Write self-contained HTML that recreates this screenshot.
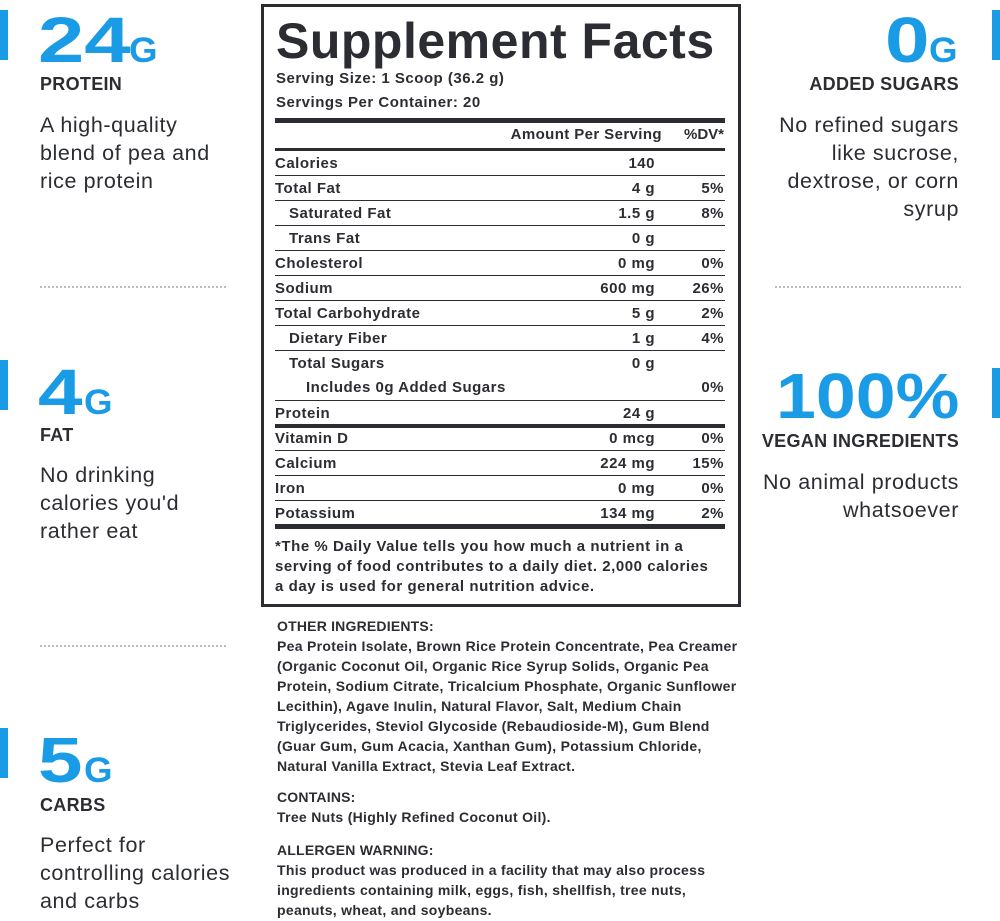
<!DOCTYPE html>
<html><head><meta charset="utf-8"><style>
*{margin:0;padding:0;box-sizing:border-box}
body{width:1000px;height:921px;background:#fff;position:relative;overflow:hidden;font-family:"Liberation Sans",sans-serif;color:#2b2d33}
.a{position:absolute;white-space:nowrap}
.bar{position:absolute;width:8px;height:50px;background:#1a9be6}
.big{position:absolute;color:#1a9be6;font-weight:bold;font-size:64px;line-height:1;white-space:nowrap}
.big .n{display:inline-block;transform:scaleX(1.25);transform-origin:left bottom}
.big .g{font-size:35px;display:inline-block;margin-left:22px;transform:scaleX(1.05);transform-origin:left bottom}
.lab{position:absolute;font-weight:bold;font-size:18px;line-height:20px;letter-spacing:0.3px}
.desc{position:absolute;font-size:21.5px;line-height:28px;letter-spacing:0.6px}
.dot{position:absolute;height:0;border-top:2px dotted #b8bcc2;width:186px}
.box{position:absolute;left:261px;top:4px;width:480px;height:603px;border:3px solid #2b2d33}
.row{position:absolute;left:275px;width:450px;height:25px;font-weight:bold;font-size:15px;letter-spacing:0.5px;line-height:25px;border-top:1px solid #2b2d33}
.row .v{position:absolute;right:70px;top:0}
.row .p{position:absolute;right:1px;top:0}
.rule{position:absolute;left:275px;width:450px;background:#2b2d33}
.t{position:absolute;left:277px;font-weight:bold;font-size:14px;line-height:20px;white-space:nowrap;letter-spacing:0.2px}
.t span{font-size:14px;letter-spacing:0.3px}
</style></head><body>
<div class="bar" style="left:0;top:10px"></div>
<div class="bar" style="left:0;top:360px"></div>
<div class="bar" style="left:0;top:728px"></div>
<div class="bar" style="left:992px;top:10px"></div>
<div class="bar" style="left:992px;top:368px"></div>

<div class="big" style="left:38px;top:8px"><span class="n" style="transform:scaleX(1.3)">24</span><span class="g" style="margin-left:20px">G</span></div>
<div class="lab" style="left:40px;top:74px">PROTEIN</div>
<div class="desc" style="left:40px;top:111px">A high-quality<br>blend of pea and<br>rice protein</div>
<div class="dot" style="left:40px;top:286px"></div>

<div class="big" style="left:38px;top:360px"><span class="n">4</span><span class="g" style="margin-left:10px">G</span></div>
<div class="lab" style="left:40px;top:425px">FAT</div>
<div class="desc" style="left:40px;top:461px">No drinking<br>calories you'd<br>rather eat</div>
<div class="dot" style="left:40px;top:645px"></div>

<div class="big" style="left:38px;top:728px"><span class="n">5</span><span class="g" style="margin-left:10px">G</span></div>
<div class="lab" style="left:40px;top:795px">CARBS</div>
<div class="desc" style="left:40px;top:831px">Perfect for<br>controlling calories<br>and carbs</div>

<div class="big" style="left:885px;top:8px"><span class="n">0</span><span class="g" style="margin-left:8px">G</span></div>
<div class="lab" style="right:41px;top:74px;text-align:right">ADDED SUGARS</div>
<div class="desc" style="right:41px;top:111px;text-align:right">No refined sugars<br>like sucrose,<br>dextrose, or corn<br>syrup</div>
<div class="dot" style="left:775px;top:286px"></div>

<div class="big" style="left:776px;top:364px"><span class="n" style="transform:scaleX(1.12)">100%</span></div>
<div class="lab" style="right:41px;top:431px;text-align:right">VEGAN INGREDIENTS</div>
<div class="desc" style="right:41px;top:468px;text-align:right">No animal products<br>whatsoever</div>

<div class="box"></div>
<div class="a" style="left:276px;top:12px;font-size:50px;font-weight:bold;line-height:58px;letter-spacing:0.5px">Supplement Facts</div>
<div class="a" style="left:276px;top:70px;font-size:15px;letter-spacing:0.5px;font-weight:bold">Serving Size: 1 Scoop (36.2 g)</div>
<div class="a" style="left:276px;top:94px;font-size:15px;letter-spacing:0.5px;font-weight:bold">Servings Per Container: 20</div>
<div class="rule" style="top:118px;height:5px"></div>
<div class="a" style="right:338px;top:126px;font-size:15px;letter-spacing:0.4px;font-weight:bold">Amount Per Serving</div>
<div class="a" style="right:276px;top:126px;font-size:15px;font-weight:bold">%DV*</div>
<div class="rule" style="top:148px;height:3px"></div>

<div class="row" style="top:151px;border-top:none">Calories<span class="v">140</span></div>
<div class="row" style="top:175px">Total Fat<span class="v">4 g</span><span class="p">5%</span></div>
<div class="row" style="top:200px;padding-left:14px">Saturated Fat<span class="v">1.5 g</span><span class="p">8%</span></div>
<div class="row" style="top:225px;padding-left:14px">Trans Fat<span class="v">0 g</span></div>
<div class="row" style="top:250px">Cholesterol<span class="v">0 mg</span><span class="p">0%</span></div>
<div class="row" style="top:275px">Sodium<span class="v">600 mg</span><span class="p">26%</span></div>
<div class="row" style="top:300px">Total Carbohydrate<span class="v">5 g</span><span class="p">2%</span></div>
<div class="row" style="top:325px;padding-left:14px">Dietary Fiber<span class="v">1 g</span><span class="p">4%</span></div>
<div class="row" style="top:350px;padding-left:14px">Total Sugars<span class="v">0 g</span></div>
<div class="row" style="top:375px;padding-left:31px;border-top:none">Includes 0g Added Sugars<span class="p">0%</span></div>
<div class="row" style="top:400px">Protein<span class="v">24 g</span></div>
<div class="rule" style="top:424px;height:4px"></div>
<div class="row" style="top:426px;border-top:none">Vitamin D<span class="v">0 mcg</span><span class="p">0%</span></div>
<div class="row" style="top:450px">Calcium<span class="v">224 mg</span><span class="p">15%</span></div>
<div class="row" style="top:475px">Iron<span class="v">0 mg</span><span class="p">0%</span></div>
<div class="row" style="top:500px">Potassium<span class="v">134 mg</span><span class="p">2%</span></div>
<div class="rule" style="top:524px;height:5px"></div>
<div class="a" style="left:275px;top:537px;font-size:15px;letter-spacing:0.55px;line-height:20px;font-weight:bold">*The % Daily Value tells you how much a nutrient in a<br>serving of food contributes to a daily diet. 2,000 calories<br>a day is used for general nutrition advice.</div>

<div class="t" style="top:616px">OTHER INGREDIENTS:<br><span>Pea Protein Isolate, Brown Rice Protein Concentrate, Pea Creamer<br>(Organic Coconut Oil, Organic Rice Syrup Solids, Organic Pea<br>Protein, Sodium Citrate, Tricalcium Phosphate, Organic Sunflower<br>Lecithin), Agave Inulin, Natural Flavor, Salt, Medium Chain<br>Triglycerides, Steviol Glycoside (Rebaudioside-M), Gum Blend<br>(Guar Gum, Gum Acacia, Xanthan Gum), Potassium Chloride,<br>Natural Vanilla Extract, Stevia Leaf Extract.</span></div>
<div class="t" style="top:787px">CONTAINS:<br><span>Tree Nuts (Highly Refined Coconut Oil).</span></div>
<div class="t" style="top:840px">ALLERGEN WARNING:<br><span>This product was produced in a facility that may also process<br>ingredients containing milk, eggs, fish, shellfish, tree nuts,<br>peanuts, wheat, and soybeans.</span></div>
</body></html>
